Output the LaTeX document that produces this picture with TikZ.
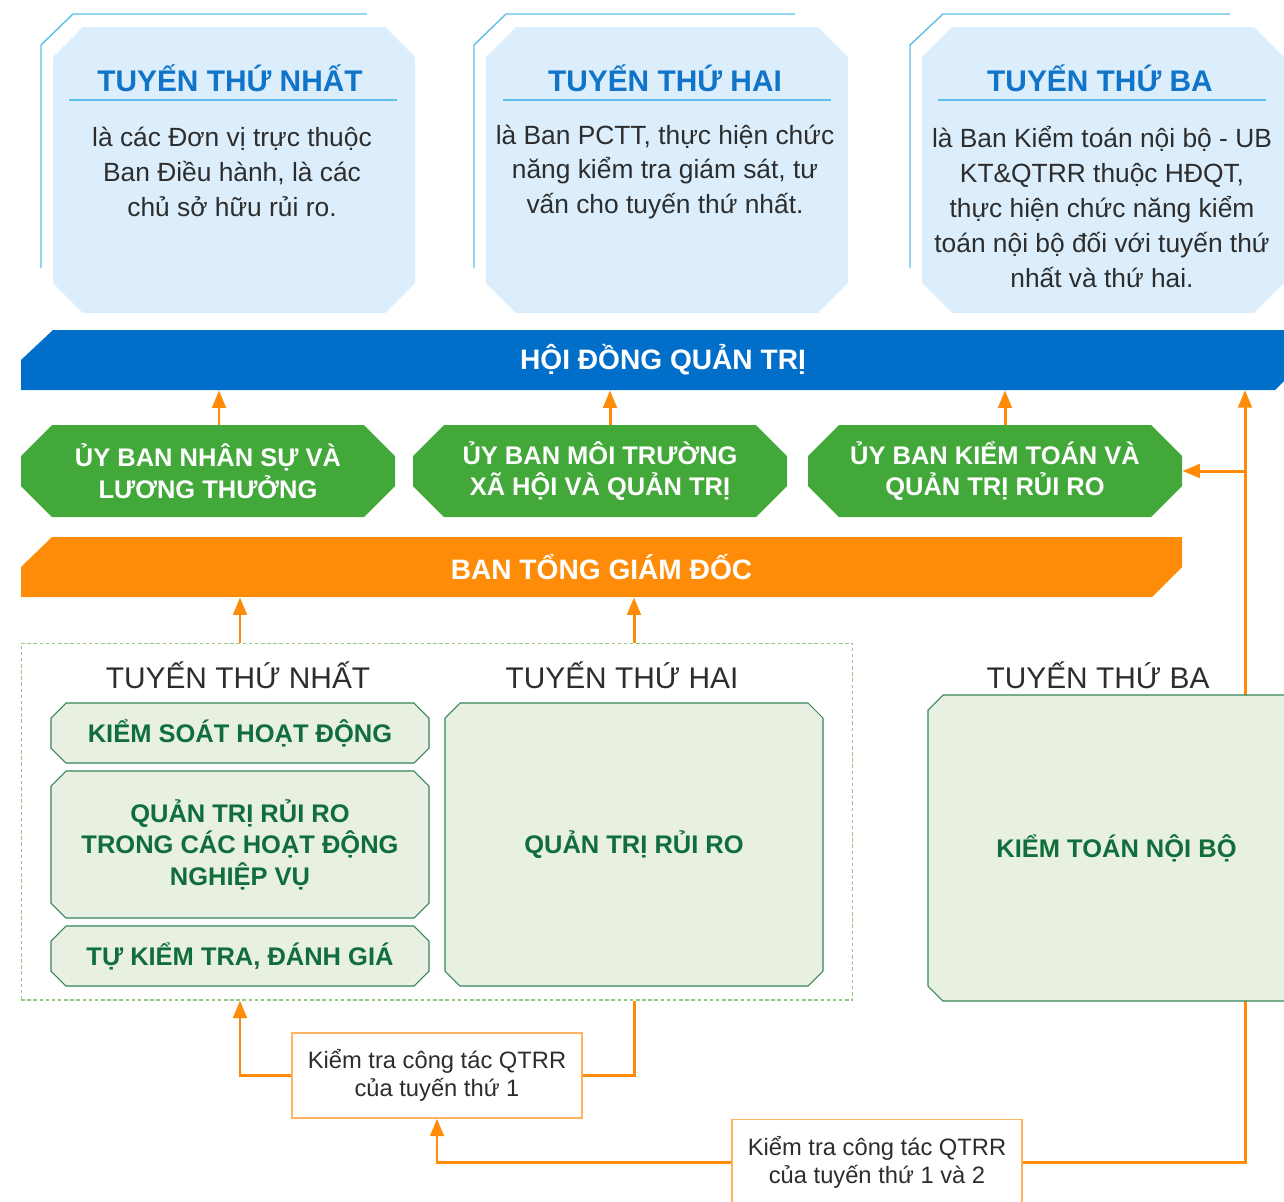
\documentclass[tikz,border=0pt]{standalone}
\usepackage{fontspec}
\setmainfont{Liberation Sans}
\usepackage{tikz}
\usetikzlibrary{arrows.meta, positioning}
\definecolor{skyfill}{RGB}{220,238,252}
\definecolor{skyline}{RGB}{91,190,235}
\definecolor{titleblue}{RGB}{16,116,200}
\definecolor{boardblue}{RGB}{1,111,202}
\definecolor{comgreen}{RGB}{67,168,58}
\definecolor{ceoorange}{RGB}{255,140,9}
\definecolor{taskfill}{RGB}{231,240,225}
\definecolor{taskdraw}{RGB}{52,132,88}
\definecolor{tasktext}{RGB}{17,110,60}
\definecolor{framegreen}{RGB}{150,200,130}
\definecolor{checkdraw}{RGB}{255,178,96}
\definecolor{textgray}{RGB}{45,45,45}
% chamfered outline: [style]{x1}{y1}{x2}{y2}{cut}
\newcommand{\cutbox}[6][]{%
    \path [#1] (#2+#6,#3) -- (#4-#6,#3) -- (#4,#3+#6) -- (#4,#5-#6) -- (#4-#6,#5)
        -- (#2+#6,#5) -- (#2,#5-#6) -- (#2,#3+#6) -- cycle;}
\tikzstyle{lanefill} = [fill=skyfill]
\tikzstyle{lane} = [rectangle, minimum width=7.24cm, minimum height=5.72cm, inner sep=0pt]
\tikzstyle{lanetitle} = [text=titleblue, font=\fontsize{17}{20}\selectfont\bfseries]
\tikzstyle{lanetext} = [text=textgray, align=center, font=\fontsize{15}{19.8}\selectfont]
\tikzstyle{rule} = [draw=skyline, line width=0.8pt]
\tikzstyle{bar} = [rectangle, minimum height=1.2cm, inner sep=0pt,
    text=white, font=\fontsize{16}{19}\selectfont\bfseries]
\tikzstyle{committee} = [rectangle, minimum width=7.48cm, minimum height=1.84cm, inner sep=0pt,
    align=center, text=white, font=\fontsize{14.5}{18}\selectfont\bfseries]
\tikzstyle{taskfill} = [draw=taskdraw, line width=0.6pt, fill=taskfill]
\tikzstyle{task} = [rectangle, minimum width=7.56cm, inner sep=0pt, align=center,
    text=tasktext, font=\fontsize{14.5}{18}\selectfont\bfseries]
\tikzstyle{linelabel} = [text=textgray, font=\fontsize{17}{20}\selectfont]
\tikzstyle{frame} = [draw=framegreen, line width=0.6pt, dash pattern=on 2pt off 1.5pt,
    minimum width=16.64cm, minimum height=7.14cm]
\tikzstyle{checkbox} = [rectangle, draw=checkdraw, line width=0.7pt, fill=white, align=center,
    minimum width=5.8cm, minimum height=1.7cm, text=textgray, font=\fontsize{13.5}{16}\selectfont]
\tikzstyle{line} = [draw=ceoorange, line width=1.7pt, -{Triangle[length=0.35cm, width=0.27cm]}]
\tikzstyle{plain} = [draw=ceoorange, line width=1.7pt]

\begin{document}
\begin{tikzpicture}[x=0.02cm, y=-0.02cm]
        \useasboundingbox (0,0) rectangle (1284,1201);
        % Outline strokes behind the lanes
        \draw [rule] (41,268) -- (41,45) -- (73,14) -- (367,14);
        \draw [rule] (474,268) -- (474,45) -- (506,14) -- (795,14);
        \draw [rule] (910,268) -- (910,45) -- (943,14) -- (1230,14);
        % Place lanes
        \cutbox[lanefill]{53}{27}{415}{313}{30}
        \cutbox[lanefill]{486}{27}{848}{313}{30}
        \cutbox[lanefill]{922}{27}{1284}{313}{30}
        \node [lane] (lane1) at (234,170) {};
        \node [lane] (lane2) at (667,170) {};
        \node [lane] (lane3) at (1103,170) {};
        \node [lanetitle] (title1) at (230,78) {TUYẾN THỨ NHẤT};
        \node [lanetitle] (title2) at (665,78) {TUYẾN THỨ HAI};
        \node [lanetitle] (title3) at (1100,78) {TUYẾN THỨ BA};
        \draw [rule] (69,100) -- (397,100);
        \draw [rule] (503,100) -- (831,100);
        \draw [rule] (938,100) -- (1266,100);
        \node [lanetext] (text1) at (232,172) {là các Đơn vị trực thuộc\\Ban Điều hành, là các\\chủ sở hữu rủi ro.};
        \node [lanetext] (text2) at (665,172) {là Ban PCTT, thực hiện chức\\năng kiểm tra giám sát, tư\\vấn cho tuyến thứ nhất.};
        \node [lanetext] (text3) at (1102,207) {là Ban Kiểm toán nội bộ - UB\\KT\&QTRR thuộc HĐQT,\\thực hiện chức năng kiểm\\toán nội bộ đối với tuyến thứ\\nhất và thứ hai.};
        % Board, committees, management
        \fill [boardblue] (53,330) -- (1305,330) -- (1305,360) -- (1275,390) -- (21,390) -- (21,360) -- cycle;
        \node [bar, minimum width=25.68cm] (board) at (663,360) {HỘI ĐỒNG QUẢN TRỊ};
        \cutbox[fill=comgreen]{21}{425}{395}{517}{31}
        \cutbox[fill=comgreen]{413}{425}{787}{517}{31}
        \cutbox[fill=comgreen]{808}{425}{1182}{517}{31}
        \node [committee] (hr) at (208,471) {ỦY BAN NHÂN SỰ VÀ\\LƯƠNG THƯỞNG};
        \node [committee] (esg) at (600,471) {ỦY BAN MÔI TRƯỜNG\\XÃ HỘI VÀ QUẢN TRỊ};
        \node [committee] (audit) at (995,471) {ỦY BAN KIỂM TOÁN VÀ\\QUẢN TRỊ RỦI RO};
        \fill [ceoorange] (52,537) -- (1182,537) -- (1182,567) -- (1152,597) -- (21,597) -- (21,567) -- cycle;
        \node [bar, minimum width=23.22cm] (ceo) at (601.5,567) {BAN TỔNG GIÁM ĐỐC};
        % First and second lines
        \node [frame] (frame) at (437,821.5) {};
        \node [linelabel] (label1) at (238,675) {TUYẾN THỨ NHẤT};
        \node [linelabel] (label2) at (622,675) {TUYẾN THỨ HAI};
        \node [linelabel] (label3) at (1098,675) {TUYẾN THỨ BA};
        \cutbox[taskfill]{51}{703}{429}{763}{15}
        \cutbox[taskfill]{51}{771}{429}{918}{15}
        \cutbox[taskfill]{51}{926}{429}{986}{15}
        \cutbox[taskfill]{445}{703}{823}{986}{15}
        \node [task, minimum height=1.2cm] (control) at (240,733) {KIỂM SOÁT HOẠT ĐỘNG};
        \node [task, minimum height=2.94cm] (business) at (240,844.5) {QUẢN TRỊ RỦI RO\\TRONG CÁC HOẠT ĐỘNG\\NGHIỆP VỤ};
        \node [task, minimum height=1.2cm] (selfcheck) at (240,956) {TỰ KIỂM TRA, ĐÁNH GIÁ};
        \node [task, minimum height=5.66cm] (risk) at (634,844.5) {QUẢN TRỊ RỦI RO};
        % Review boxes
        \node [checkbox] (check1) at (437,1075.5) {Kiểm tra công tác QTRR\\của tuyến thứ 1};
        \node [checkbox] (check2) at (877,1162) {Kiểm tra công tác QTRR\\của tuyến thứ 1 và 2};
        \coordinate (riser) at (1245,390);
        % Draw edges
        \path [line] ([xshift=0.22cm]hr.north) -- ([xshift=0.22cm]hr.north |- board.south);
        \path [line] ([xshift=0.2cm]esg.north) -- ([xshift=0.2cm]esg.north |- board.south);
        \path [line] ([xshift=0.2cm]audit.north) -- ([xshift=0.2cm]audit.north |- board.south);
        \path [line] (control.north |- frame.north) -- (control.north |- ceo.south);
        \path [line] (risk.north |- frame.north) -- (risk.north |- ceo.south);
        \path [line] (check1.west) -| (control.south |- frame.south);
        \path [plain] (check1.east) -| (risk.south |- frame.south);
        \path [line] (check2.west) -| (check1.south);
        \path [line] (check2.east) -| (riser);
        \path [line] (riser |- audit.east) -- (audit.east);
        % Third line sits over the riser
        \path [taskfill] (943,695) -- (1305,695) -- (1305,1001) -- (943,1001) -- (928,986) -- (928,710) -- cycle;
        \node [task, minimum width=7.54cm, minimum height=6.12cm] (internal) at (1116.5,848) {KIỂM TOÁN NỘI BỘ};
\end{tikzpicture}
\end{document}
